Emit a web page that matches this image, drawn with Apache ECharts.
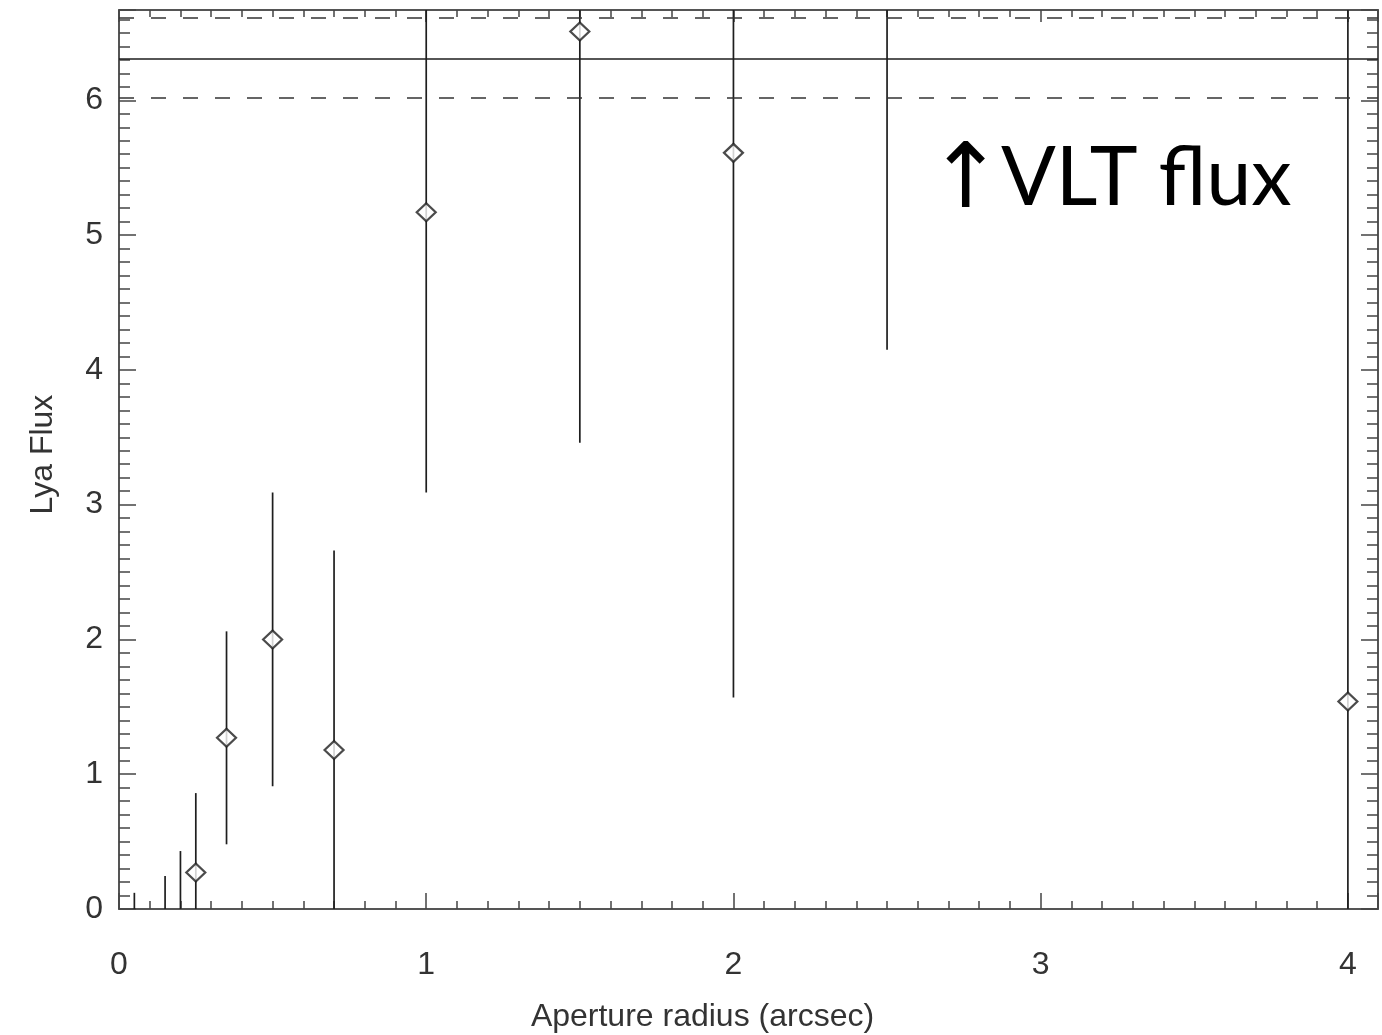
<!DOCTYPE html>
<html>
<head>
<meta charset="utf-8">
<script src="https://cdn.jsdelivr.net/npm/echarts@6/dist/echarts.min.js"></script>
<style>
html,body{margin:0;padding:0;background:#fff;}
#chart{width:1382px;height:1035px;}
</style>
</head>
<body>
<div id="chart"></div>
<script>
// Aperture radius (arcsec)
const radius = [0.05, 0.15, 0.2, 0.25, 0.35, 0.5, 0.7, 1.0, 1.5, 2.0, 2.5, 4.0];
// Lya flux
const flux = [-0.05, -0.10, -0.06, 0.27, 1.27, 2.00, 1.18, 5.17, 6.51, 5.61, 7.00, 1.54];
// symmetric 1-sigma errors
const fluxErr = [0.17, 0.345, 0.49, 0.59, 0.79, 1.09, 1.48, 2.08, 3.05, 4.04, 2.85, 5.60];
// VLT flux and its uncertainty band
const vltFlux = 6.31;
const vltLow = 6.02;
const vltHigh = 6.61;
const xTickLabels = [0, 1, 2, 3, 4];
const yTickLabels = [0, 1, 2, 3, 4, 5, 6];

const X_MIN = 0, X_MAX = 4.098, Y_MIN = 0, Y_MAX = 6.67;
const ink = '#1e1e1e';
const axisCol = '#555';
const labelFont = 'Liberation Sans, Arial, Helvetica, sans-serif';

const points = radius.map((r, i) => [r, flux[i]]);
const bars = radius.map((r, i) => [r, flux[i], fluxErr[i]]);

function intLabel(v) {
  const r = Math.round(v);
  return (Math.abs(v - r) < 1e-6 && (xTickLabels.includes(r) || yTickLabels.includes(r))) ? String(r) : '';
}

function mkX(pos, major, len, labels, line) {
  return {
    type: 'value', position: pos, min: X_MIN, max: X_MAX,
    interval: major ? 1 : 0.1,
    axisLine: { show: line, onZero: false, lineStyle: { color: axisCol, width: 2 } },
    axisTick: { show: true, inside: true, length: len, lineStyle: { color: '#444', width: 1.5 } },
    axisLabel: labels ? { show: true, formatter: intLabel, color: '#333', fontSize: 32, fontFamily: labelFont, margin: 40 } : { show: false },
    splitLine: { show: false },
    name: labels ? 'Aperture radius (arcsec)' : '',
    nameLocation: 'middle', nameGap: 92,
    nameTextStyle: { color: '#333', fontSize: 32, fontFamily: labelFont, padding: [0, 92, 0, 0] }
  };
}
function mkY(pos, major, len, labels, line) {
  return {
    type: 'value', position: pos, min: Y_MIN, max: Y_MAX,
    interval: major ? 1 : 0.1,
    axisLine: { show: line, onZero: false, lineStyle: { color: axisCol, width: 2 } },
    axisTick: { show: true, inside: true, length: len, lineStyle: { color: '#444', width: 1.5 } },
    axisLabel: labels ? { show: true, formatter: intLabel, color: '#333', fontSize: 32, fontFamily: labelFont, margin: 16 } : { show: false },
    splitLine: { show: false },
    name: labels ? 'Lya Flux' : '',
    nameLocation: 'middle', nameGap: 60, nameRotate: 90,
    nameTextStyle: { color: '#333', fontSize: 32, fontFamily: labelFont, padding: [0, 0, 0, 10] }
  };
}

const chart = echarts.init(document.getElementById('chart'), null, { renderer: 'canvas' });
chart.setOption({
  backgroundColor: '#fff',
  animation: false,
  grid: { left: 119, right: 4, top: 10, bottom: 126, containLabel: false, outerBoundsMode: 'none' },
  xAxis: [
    mkX('bottom', true, 16, true, true),
    mkX('bottom', false, 8, false, false),
    mkX('top', true, 12, false, true),
    mkX('top', false, 7, false, false)
  ],
  yAxis: [
    mkY('left', true, 17, true, true),
    mkY('left', false, 11, false, false),
    mkY('right', true, 17, false, true),
    mkY('right', false, 11, false, false)
  ],
  series: [
    {
      type: 'custom', name: 'errors', xAxisIndex: 0, yAxisIndex: 0,
      clip: true, silent: true,
      encode: { x: 0, y: 1 },
      data: bars,
      renderItem: function (params, api) {
        const x = api.value(0), y = api.value(1), e = api.value(2);
        const a = api.coord([x, y + e]);
        const b = api.coord([x, y - e]);
        return { type: 'line', shape: { x1: a[0], y1: a[1], x2: b[0], y2: b[1] },
                 style: { stroke: ink, lineWidth: 1.7 } };
      },
      z: 2
    },
    {
      type: 'scatter', name: 'flux', xAxisIndex: 0, yAxisIndex: 0,
      symbol: 'diamond', symbolSize: [19, 18], clip: true,
      itemStyle: { color: '#fff', borderColor: ink, borderWidth: 2.2 },
      data: points,
      z: 3,
      markLine: {
        silent: true, symbol: ['none', 'none'], label: { show: false },
        animation: false,
        data: [
          { yAxis: vltFlux, lineStyle: { type: 'solid', color: ink, width: 1.7 } },
          { yAxis: vltLow, lineStyle: { type: [15, 17], color: '#333', width: 1.7 } },
          { yAxis: vltHigh, lineStyle: { type: [15, 17], color: '#333', width: 1.7 } }
        ]
      }
    }
  ],
  graphic: [
    { type: 'text', left: 928, top: 139, style: { text: '↑', font: '90px "DejaVu Sans"', fill: '#000' } },
    { type: 'text', left: 1001, top: 138, style: { text: 'VLT flux', font: '81px Lato', fill: '#000' } }
  ]
});
</script>
</body>
</html>
